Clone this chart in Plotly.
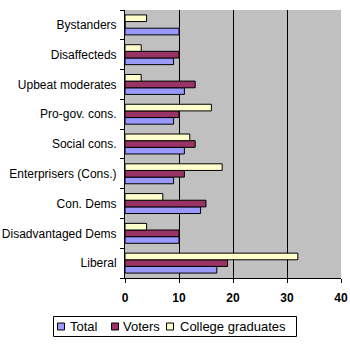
import plotly.graph_objects as go

categories = ["Liberal", "Disadvantaged Dems", "Con. Dems", "Enterprisers (Cons.)",
              "Social cons.", "Pro-gov. cons.", "Upbeat moderates", "Disaffecteds", "Bystanders"]
total = [17, 10, 14, 9, 11, 9, 11, 9, 10]
voters = [19, 10, 15, 11, 13, 10, 13, 10, 0]
college = [32, 4, 7, 18, 12, 16, 3, 3, 4]
x_ticks = [0, 10, 20, 30, 40]
series_names = ["Total", "Voters", "College graduates"]
series_colors = ["#9999FF", "#993366", "#FFFFCC"]

W, H = 350, 344
ML, MR, MT, MB = 125, 9, 10, 66
PW, PH = W - ML - MR, H - MT - MB


def px(xp):
    return (xp - ML) / PW


def py(yp):
    return (H - MB - yp) / PH


fig = go.Figure()
for name, vals, col in zip(series_names, [total, voters, college], series_colors):
    fig.add_trace(go.Bar(y=categories, x=vals, name=name, orientation="h",
                         showlegend=False,
                         marker=dict(color=col, line=dict(color="#000000", width=1))))

# legend box drawn like the original (compact Excel-style legend)
shapes = [dict(type="rect", xref="paper", yref="paper",
               x0=px(53.5), x1=px(296.5), y0=py(316.5), y1=py(336.5),
               line=dict(color="#000000", width=1), fillcolor="#FFFFFF", layer="above")]
annotations = []
sym_left = [57.5, 111.5, 166.5]
text_left = [68, 120.5, 178]
for name, col, sx, tx in zip(series_names, series_colors, sym_left, text_left):
    shapes.append(dict(type="rect", xref="paper", yref="paper",
                       x0=px(sx), x1=px(sx + 7), y0=py(323), y1=py(330),
                       line=dict(color="#000000", width=1), fillcolor=col, layer="above"))
    annotations.append(dict(text=name, xref="paper", yref="paper", x=px(tx), y=py(326.5),
                            xanchor="left", yanchor="middle", showarrow=False,
                            font=dict(size=13, color="#000000")))

fig.update_layout(
    width=W, height=H,
    margin=dict(l=ML, r=MR, t=MT, b=MB, autoexpand=False),
    barmode="group", bargap=0.33, bargroupgap=0,
    plot_bgcolor="#C0C0C0", paper_bgcolor="#FFFFFF",
    font=dict(family="Liberation Sans, Arial", size=12, color="#000000"),
    showlegend=False,
    shapes=shapes, annotations=annotations,
)
fig.update_xaxes(range=[0, 40], tickvals=x_ticks, ticktext=[f"<b>{v}</b>" for v in x_ticks],
                 showgrid=True, gridcolor="#000000", gridwidth=1,
                 showline=True, linecolor="#000000", linewidth=1,
                 ticks="outside", ticklen=4, tickcolor="#000000", ticklabelstandoff=5,
                 zeroline=False, tickfont=dict(size=12), mirror=False)
fig.update_yaxes(categoryorder="array", categoryarray=categories,
                 showline=True, linecolor="#000000", linewidth=1,
                 ticks="outside", ticklen=4, tickcolor="#000000", tickson="boundaries",
                 ticklabelstandoff=5,
                 showgrid=False, tickfont=dict(size=12))

fig.write_html("out.html")
